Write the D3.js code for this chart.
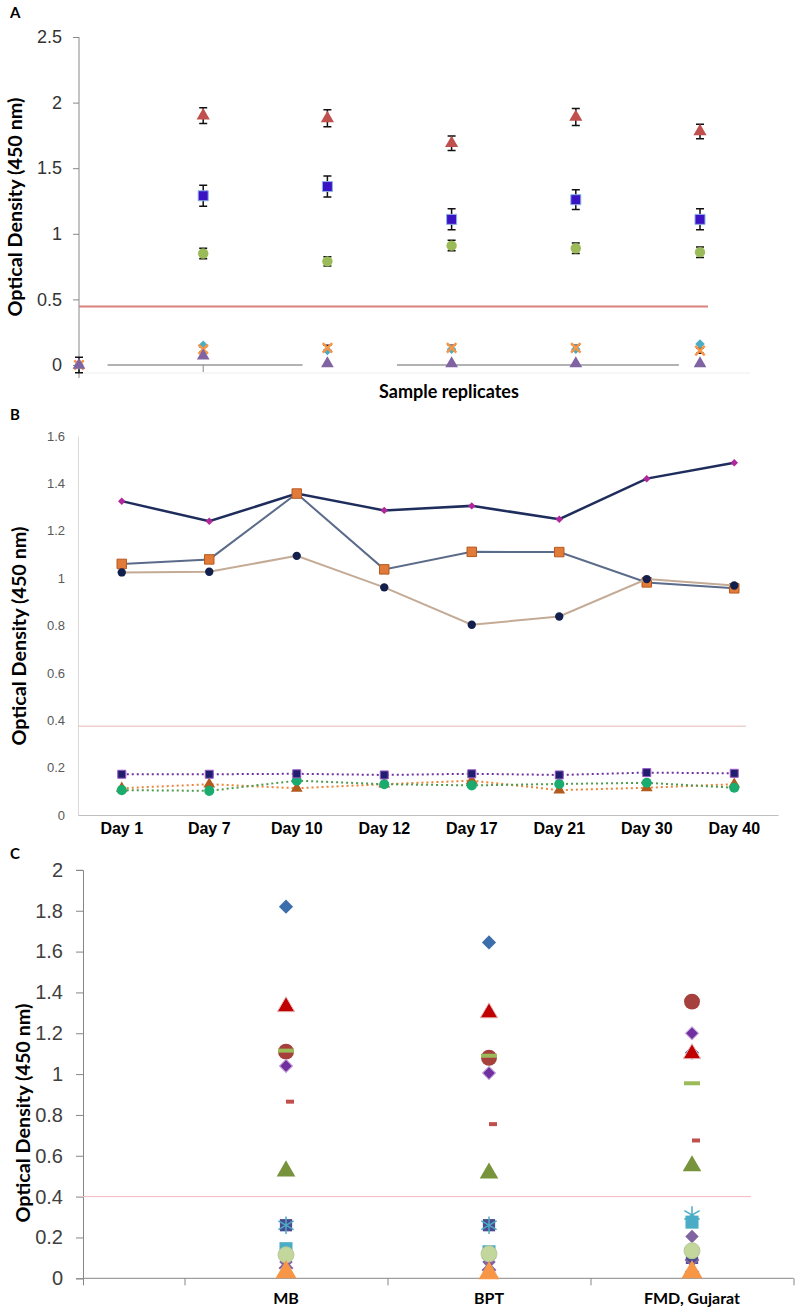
<!DOCTYPE html>
<html>
<head>
<meta charset="utf-8">
<script src="https://cdn.jsdelivr.net/npm/d3@7"></script>
<style>
	body { margin: 0; background: #fff; }
	svg { display: block; font-family: Lato, "Open Sans", sans-serif; }
</style>
</head>
<body>
<div id="chart"></div>
<script>
//panel A data (sample replicates 0..5)
var aReplicates = [0, 1, 2, 3, 4, 5],
	aRed = [null, 1.90, 1.88, 1.69, 1.89, 1.78],
	aRedErr = [null, 0.06, 0.065, 0.055, 0.065, 0.055],
	aBlue = [null, 1.29, 1.36, 1.11, 1.26, 1.11],
	aBlueErr = [null, 0.08, 0.08, 0.08, 0.075, 0.08],
	aGreen = [null, 0.85, 0.79, 0.91, 0.89, 0.86],
	aGreenErr = [null, 0.04, 0.035, 0.04, 0.04, 0.04],
	aCyan = [0.0, 0.15, 0.11, 0.12, 0.12, 0.16],
	aOrange = [0.0, 0.12, 0.13, 0.13, 0.13, 0.11],
	aOrangeErr = [0.06, 0.02, 0.02, 0.02, 0.02, 0.02],
	aPurple = [0.0, 0.07, 0.01, 0.01, 0.01, 0.01],
	aCutoff = 0.445,
	aBaseSegs = [[0.23, 1.8], [2.56, 4.83]],
	aTicks = [0, 0.5, 1, 1.5, 2, 2.5];

//panel B data
var bDays = ["Day 1", "Day 7", "Day 10", "Day 12", "Day 17", "Day 21", "Day 30", "Day 40"],
	bSeries1 = [1.325, 1.24, 1.357, 1.286, 1.305, 1.249, 1.42, 1.487],
	bSeries2 = [1.06, 1.079, 1.357, 1.037, 1.111, 1.11, 0.982, 0.957],
	bSeries3 = [1.024, 1.027, 1.094, 0.961, 0.803, 0.838, 0.996, 0.969],
	bSeries4 = [0.172, 0.172, 0.174, 0.169, 0.174, 0.169, 0.179, 0.176],
	bSeries5 = [0.105, 0.102, 0.145, 0.13, 0.125, 0.131, 0.136, 0.115],
	bSeries6 = [0.113, 0.13, 0.113, 0.13, 0.145, 0.105, 0.115, 0.13],
	bCutoff = 0.375,
	bTicks = [0, 0.2, 0.4, 0.6, 0.8, 1, 1.2, 1.4, 1.6];

//panel C data
var cSamples = ["MB", "BPT", "FMD, Gujarat"],
	cBlueDiamond = [1.82, 1.645, 1.105],
	cRedTriangle = [1.33, 1.30, 1.10],
	cBrownCircle = [1.11, 1.08, 1.355],
	cGreenDash = [1.115, 1.09, 0.955],
	cPurpleDiamond = [1.04, 1.005, 1.20],
	cRedDash = [0.865, 0.755, 0.675],
	cGreenTriangle = [0.525, 0.515, 0.55],
	cNavySquare = [0.26, 0.26, 0.10],
	cTealStar = [0.26, 0.26, 0.31],
	cTealSquare = [0.145, 0.13, 0.275],
	cLilacDiamond = [0.08, 0.08, 0.205],
	cPaleCircle = [0.115, 0.12, 0.135],
	cPurpleX = [0.08, 0.07, 0.06],
	cOrangeTriangle = [0.03, 0.025, 0.03],
	cCutoff = 0.4,
	cTicks = [0, 0.2, 0.4, 0.6, 0.8, 1, 1.2, 1.4, 1.6, 1.8, 2];

var svg = d3.select("#chart")
	.append("svg")
		.attr("width", 800)
		.attr("height", 1313);

//symbol path helper
function sym(type, size) {
	return d3.symbol().type(type).size(size)();
}
var starType = d3.symbolAsterisk || d3.symbolCross,
	timesType = d3.symbolTimes || d3.symbolX || d3.symbolCross;

function yTitle(x, y) {
	svg.append("text")
		.attr("transform", "translate(" + x + "," + y + ") rotate(-90)")
		.attr("text-anchor", "middle")
		.attr("font-weight", "bold")
		.attr("font-size", 18)
		.attr("textLength", 219)
		.attr("lengthAdjust", "spacingAndGlyphs")
		.attr("fill", "#000")
		.text("Optical Density (450 nm)");
}

function panelLabel(t, y) {
	svg.append("text")
		.attr("x", 10)
		.attr("y", y)
		.attr("font-weight", "bold")
		.attr("font-size", 15)
		.text(t);
}

drawA();
drawB();
drawC();

function drawA() {
	var x = d3.scaleLinear().domain([0, 5]).range([79, 700]),
		y = d3.scaleLinear().domain([0, 2.5]).range([365, 37]);
	var g = svg.append("g");

	panelLabel("A", 18);
	yTitle(22, 207);

	//y axis
	var ax = g.append("g")
		.attr("transform", "translate(79,0)")
		.call(d3.axisLeft(y).tickValues(aTicks).tickSize(6).tickPadding(11).tickFormat(d3.format("")));
	ax.select(".domain").remove();
	ax.selectAll("line").attr("stroke", "#888");
	ax.selectAll("text").attr("font-size", 18).attr("fill", "#333");
	g.append("line")
		.attr("x1", 79).attr("x2", 79)
		.attr("y1", 37).attr("y2", 378)
		.attr("stroke", "#888");

	//faint bottom line + gray baseline pieces
	g.append("line")
		.attr("x1", 79).attr("x2", 750)
		.attr("y1", 373).attr("y2", 373)
		.attr("stroke", "#eeeeee");
	g.selectAll(".seg")
		.data(aBaseSegs)
		.enter()
		.append("line")
			.attr("x1", function(d) { return x(d[0]); })
			.attr("x2", function(d) { return x(d[1]); })
			.attr("y1", y(0)).attr("y2", y(0))
			.attr("stroke", "#999")
			.attr("stroke-width", 1.5);
	g.append("line")
		.attr("x1", x(1)).attr("x2", x(1))
		.attr("y1", y(0)).attr("y2", y(0) + 7)
		.attr("stroke", "#888");

	//cutoff
	g.append("line")
		.attr("x1", 79).attr("x2", 708)
		.attr("y1", y(aCutoff)).attr("y2", y(aCutoff))
		.attr("stroke", "#d9827e")
		.attr("stroke-width", 2);

	function errBars(vals, errs) {
		aReplicates.forEach(function(r, i) {
			if (vals[i] == null || errs[i] == null) return;
			var cx = x(r), t = y(vals[i] + errs[i]), b = y(vals[i] - errs[i]);
			g.append("path")
				.attr("d", "M" + cx + "," + t + "V" + b + "M" + (cx - 4) + "," + t + "H" + (cx + 4) + "M" + (cx - 4) + "," + b + "H" + (cx + 4))
				.attr("stroke", "#111")
				.attr("stroke-width", 1.5)
				.attr("fill", "none");
		});
	}
	function points(vals, path, fill, stroke, rot, sw) {
		aReplicates.forEach(function(r, i) {
			if (vals[i] == null) return;
			g.append("path")
				.attr("d", path)
				.attr("transform", "translate(" + x(r) + "," + y(vals[i]) + ")" + (rot ? " rotate(45)" : ""))
				.attr("fill", fill)
				.attr("stroke", stroke || "none")
				.attr("stroke-width", sw || 1);
		});
	}

	errBars(aRed, aRedErr);
	errBars(aBlue, aBlueErr);
	errBars(aGreen, aGreenErr);
	errBars(aOrange, aOrangeErr);
	points(aRed, sym(d3.symbolTriangle, 75), "#c0504d");
	points(aBlue, sym(d3.symbolSquare, 100), "#3a14c4", "#8db3e2");
	points(aGreen, sym(d3.symbolCircle, 85), "#9bbb59");
	points(aCyan, sym(d3.symbolSquare, 45), "#4bacc6", null, true);
	points(aOrange, sym(timesType, 60), "none", "#f79646", false, 2.5);
	points(aPurple, sym(d3.symbolTriangle, 70), "#8064a2");

	g.append("text")
		.attr("x", 449)
		.attr("y", 398)
		.attr("text-anchor", "middle")
		.attr("font-weight", "bold")
		.attr("font-size", 18)
		.text("Sample replicates");
}

function drawB() {
	var x = d3.scaleBand().domain(bDays).range([78, 778]),
		y = d3.scaleLinear().domain([0, 1.6]).range([815, 436]);
	var g = svg.append("g");
	var cx = function(d, i) { return x(bDays[i]) + x.bandwidth() / 2; };

	panelLabel("B", 420);
	yTitle(26, 636);

	var ax = g.append("g")
		.attr("transform", "translate(78,0)")
		.call(d3.axisLeft(y).tickValues(bTicks).tickSize(0).tickPadding(13).tickFormat(d3.format("")));
	ax.select(".domain").attr("stroke", "#d9d9d9");
	ax.selectAll("text").attr("font-size", 13).attr("fill", "#595959");

	var bx = g.append("g")
		.attr("transform", "translate(0,815)")
		.call(d3.axisBottom(x).tickSize(0).tickPadding(8));
	bx.select(".domain").attr("stroke", "#bfbfbf");
	bx.selectAll("text").attr("font-size", 16).attr("font-weight", "bold").attr("fill", "#000");

	g.append("line")
		.attr("x1", 78).attr("x2", 746)
		.attr("y1", y(bCutoff)).attr("y2", y(bCutoff))
		.attr("stroke", "#e6b9b8")
		.attr("stroke-width", 1);

	function series(vals, lineColor, width, dash, path, fill, stroke, rot) {
		var line = d3.line().x(cx).y(function(d) { return y(d); });
		g.append("path")
			.attr("d", line(vals))
			.attr("fill", "none")
			.attr("stroke", lineColor)
			.attr("stroke-width", width)
			.attr("stroke-dasharray", dash);
		g.selectAll(null)
			.data(vals)
			.enter()
			.append("path")
				.attr("d", path)
				.attr("transform", function(d, i) { return "translate(" + cx(d, i) + "," + y(d) + ")" + (rot ? " rotate(45)" : ""); })
				.attr("fill", fill)
				.attr("stroke", stroke || "none")
				.attr("stroke-width", 1);
	}

	//dotted controls
	series(bSeries6, "#e8873a", 2, "2,3", sym(d3.symbolTriangle, 60), "#b35a1f");
	series(bSeries5, "#4f9a4f", 2, "2,3", sym(d3.symbolCircle, 80), "#1aab6e");
	series(bSeries4, "#7030a0", 2, "2,3", sym(d3.symbolSquare, 64), "#1f1f6e", "#9b59c6");
	//solid lines
	series(bSeries1, "#1f2d5c", 2.5, null, sym(d3.symbolSquare, 28), "#b0289b", null, true);
	series(bSeries2, "#5b6b8a", 2, null, sym(d3.symbolSquare, 90), "#e07b39", "#b85a20");
	series(bSeries3, "#c4ab96", 2, null, sym(d3.symbolCircle, 55), "#13204d");
}

function drawC() {
	var x = d3.scaleLinear().domain([0, 3.5]).range([83, 793.5]),
		y = d3.scaleLinear().domain([0, 2]).range([1278.3, 869.9]);
	var g = svg.append("g");

	panelLabel("C", 859);
	yTitle(30, 1113);

	var ax = g.append("g")
		.attr("transform", "translate(83,0)")
		.call(d3.axisLeft(y).tickValues(cTicks).tickSize(7).tickPadding(13).tickFormat(d3.format("")));
	ax.selectAll("line, .domain").attr("stroke", "#868686");
	ax.selectAll("text").attr("font-size", 20).attr("fill", "#404040");

	var bx = g.append("g")
		.attr("transform", "translate(0," + y(0) + ")")
		.call(d3.axisBottom(x).tickValues([0, 0.5, 1.5, 2.5, 3.5]).tickSize(7).tickFormat(""));
	bx.selectAll("line, .domain").attr("stroke", "#868686");
	bx.selectAll(".domain").attr("d", "M83,0H793.5");

	g.selectAll(".clab")
		.data(cSamples)
		.enter()
		.append("text")
			.attr("x", function(d, i) { return x(i + 1); })
			.attr("y", y(0) + 26)
			.attr("text-anchor", "middle")
			.attr("font-weight", "bold")
			.attr("font-size", 16)
			.text(function(d) { return d; });

	g.append("line")
		.attr("x1", 83).attr("x2", 751)
		.attr("y1", y(cCutoff)).attr("y2", y(cCutoff))
		.attr("stroke", "#f4b6c2")
		.attr("stroke-width", 1);

	function points(vals, path, fill, stroke, sw, dx, rot) {
		vals.forEach(function(v, i) {
			g.append("path")
				.attr("d", path)
				.attr("transform", "translate(" + (x(i + 1) + (dx || 0)) + "," + y(v) + ")" + (rot ? " rotate(45)" : ""))
				.attr("fill", fill)
				.attr("stroke", stroke || "none")
				.attr("stroke-width", sw || 1);
		});
	}
	var dash = "M-8,-2H8V2H-8Z",
		smallDash = "M-4,-2H4V2H-4Z";

	points(cBlueDiamond, sym(d3.symbolSquare, 100), "#3c6eab", null, 1, 0, true);
	points(cRedTriangle, sym(d3.symbolTriangle, 130), "#c00000", "#e7b8b8");
	points(cBrownCircle, sym(d3.symbolCircle, 200), "#a5403c");
	points(cGreenDash, dash, "#9bbb59");
	points(cPurpleDiamond, sym(d3.symbolSquare, 85), "#7030a0", "#c9a5dd", 1, 0, true);
	points(cRedDash, smallDash, "#c0504d", null, 1, 4);
	points(cGreenTriangle, sym(d3.symbolTriangle, 150), "#77933c");
	points(cNavySquare, sym(d3.symbolSquare, 150), "#4b4b8f");
	points(cTealSquare, sym(d3.symbolSquare, 170), "#4bacc6");
	points(cTealStar, sym(starType, 220), "none", "#4bacc6", 1.5);
	points(cLilacDiamond, sym(d3.symbolSquare, 90), "#8064a2", null, 1, 0, true);
	points(cPurpleX, sym(timesType, 120), "none", "#8064a2", 2);
	points(cPaleCircle, sym(d3.symbolCircle, 200), "#c3d69b", "#b7c99a");
	points(cOrangeTriangle, sym(d3.symbolTriangle, 190), "#f79646");
}
</script>
</body>
</html>
